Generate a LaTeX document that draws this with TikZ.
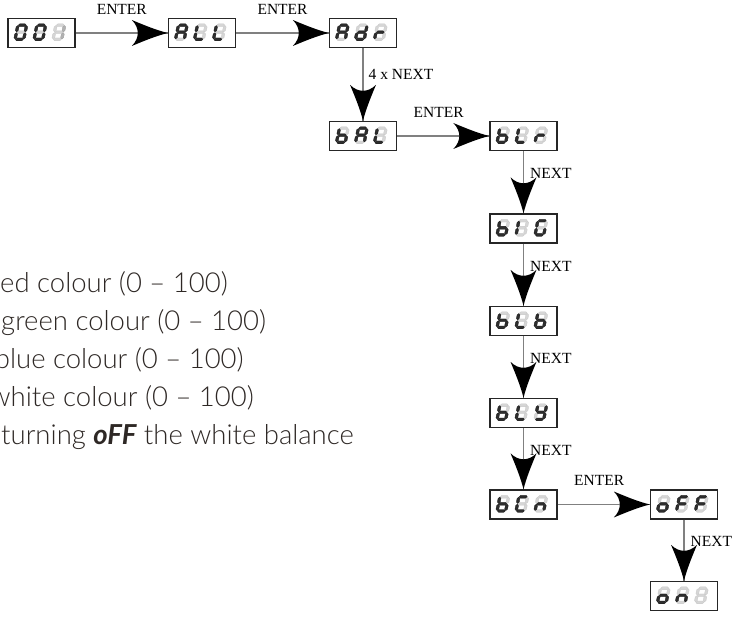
\documentclass[tikz,border=0pt]{standalone}
\usepackage{fontspec}
\usetikzlibrary{decorations.markings}
\newfontfamily\labfont{Liberation Serif}
\newfontfamily\txtfont{Lato}[UprightFont=* Light]
\newfontfamily\offfont{Lato}
\definecolor{conncol}{HTML}{808080}
\definecolor{txtcol}{HTML}{2E2825}
\tikzset{
  son/.style={fill=black!82, draw=black!90, line width=0.3pt},
  soff/.style={fill=black!16, draw=black!22, line width=0.3pt},
  smid/.style={fill=black!30, draw=black!36, line width=0.3pt}
}
% seven-segment pieces (local units, y downwards)
\newcommand\sga[1]{\path[#1] (1.8,1.4) -- (3.2,0) -- (8.3,0) -- (9.7,1.4) -- (8.3,2.8) -- (3.2,2.8) -- cycle;}
\newcommand\sgg[1]{\path[#1] (1.8,8.5) -- (3.2,7.1) -- (8.3,7.1) -- (9.7,8.5) -- (8.3,9.9) -- (3.2,9.9) -- cycle;}
\newcommand\sgd[1]{\path[#1] (1.8,15.6) -- (3.2,14.2) -- (8.3,14.2) -- (9.7,15.6) -- (8.3,17) -- (3.2,17) -- cycle;}
\newcommand\sgf[1]{\path[#1] (1.4,1.8) -- (2.8,3.2) -- (2.8,6.7) -- (1.4,8.1) -- (0,6.7) -- (0,3.2) -- cycle;}
\newcommand\sge[1]{\path[#1] (1.4,8.9) -- (2.8,10.3) -- (2.8,13.8) -- (1.4,15.2) -- (0,13.8) -- (0,10.3) -- cycle;}
\newcommand\sgb[1]{\path[#1] (10.1,1.8) -- (11.5,3.2) -- (11.5,6.7) -- (10.1,8.1) -- (8.7,6.7) -- (8.7,3.2) -- cycle;}
\newcommand\sgc[1]{\path[#1] (10.1,8.9) -- (11.5,10.3) -- (11.5,13.8) -- (10.1,15.2) -- (8.7,13.8) -- (8.7,10.3) -- cycle;}
\newcommand\sgz[1]{}
\newcommand\dgt[3]{%
  \begin{scope}[shift={(#1,6)}, xslant=0.2]
    \foreach \s in {a,b,c,d,e,f,g} {\csname sg\s\endcsname{soff}}
    \foreach \s in {#2} {\csname sg\s\endcsname{#3}}
  \end{scope}}
\newcommand\disp[6]{%
  \node[dbox] (#1) at (#2) {};
  \begin{scope}[shift={(#1.north west)}]
    \dgt{9.45}{#3}{son}\dgt{28.45}{#4}{son}\dgt{47.45}{#5}{#6}
  \end{scope}}
\tikzset{
  dbox/.style={rectangle, draw=black!85, line width=1.4pt, fill=white,
    minimum width=67pt, minimum height=29pt, inner sep=0pt},
  lab/.style={font=\labfont\fontsize{15.5}{17}\selectfont, inner sep=0pt, text=black},
  conn/.style={draw=conncol, line width=1.3pt, postaction={decorate},
    decoration={markings, mark=at position 1 with {\fill[black] (0,0)
      .. controls (-12,-3) and (-24,-8) .. (-36,-13)
      .. controls (-28,-5) and (-28,5) .. (-36,13)
      .. controls (-24,8) and (-12,3) .. (0,0) -- cycle;}}},
  txt/.style={font=\txtfont\fontsize{27.5}{31}\selectfont, text=txtcol,
    inner sep=0pt, anchor=base west}
}
\begin{document}
\begin{tikzpicture}[x=1pt,y=-1pt]
\useasboundingbox (0,0) rectangle (738,628);
\clip (0,0) rectangle (738,628);
\disp{n001}{41.5,33}{a,b,c,d,e,f}{a,b,c,d,e,f}{b,c}{smid}
\disp{nALL}{202,33}{a,b,c,e,f,g}{d,e,f}{d,e,f}{son}
\disp{nAdr}{363,33}{a,b,c,e,f,g}{b,c,d,e,g}{e,g}{son}
\disp{nbAL}{363,136}{c,d,e,f,g}{a,b,c,e,f,g}{d,e,f}{son}
\disp{nbLr}{523.5,136}{c,d,e,f,g}{d,e,f}{e,g}{son}
\disp{nbIG}{523.5,228.5}{c,d,e,f,g}{e,f}{a,c,d,e,f}{son}
\disp{nbLb}{523.5,321}{c,d,e,f,g}{d,e,f}{c,d,e,f,g}{son}
\disp{nbLY}{523.5,413}{c,d,e,f,g}{d,e,f}{b,c,d,f,g}{son}
\disp{nbCn}{523.5,504.5}{c,d,e,f,g}{a,d,e,f}{c,e,g}{son}
\disp{noFF}{684,504.5}{c,d,e,g}{a,e,f,g}{a,e,f,g}{son}
\disp{non8}{684,596}{c,d,e,g}{c,e,g}{z}{son}
\draw[conn] (n001) -- node[lab, above=18pt] {ENTER} (nALL);
\draw[conn] (nALL) -- node[lab, above=18pt] {ENTER} (nAdr);
\draw[conn] (nAdr) -- node[lab, right=5pt, pos=0.36] {4 x NEXT} (nbAL);
\draw[conn] (nbAL) -- node[lab, above=18pt, pos=0.45] {ENTER} (nbLr);
\draw[conn] (nbLr) -- node[lab, right=6pt, pos=0.36] {NEXT} (nbIG);
\draw[conn] (nbIG) -- node[lab, right=6pt, pos=0.36] {NEXT} (nbLb);
\draw[conn] (nbLb) -- node[lab, right=6pt, pos=0.36] {NEXT} (nbLY);
\draw[conn] (nbLY) -- node[lab, right=6pt, pos=0.36] {NEXT} (nbCn);
\draw[conn] (nbCn) -- node[lab, above=18pt, pos=0.45] {ENTER} (noFF);
\draw[conn] (noFF) -- node[lab, right=6pt, pos=0.36] {NEXT} (non8);
\node[txt] (t1) at (0,292) {ed colour (0 – 100)};
\node[txt] (t2) at (1,330) {green colour (0 – 100)};
\node[txt] (t3) at (-5.3,368) {blue colour (0 – 100)};
\node[txt] (t4) at (-10.5,406) {white colour (0 – 100)};
\node[txt] (t5) at (1,444) {turning {\offfont\bfseries\itshape oFF} the white balance};
\end{tikzpicture}
\end{document}
